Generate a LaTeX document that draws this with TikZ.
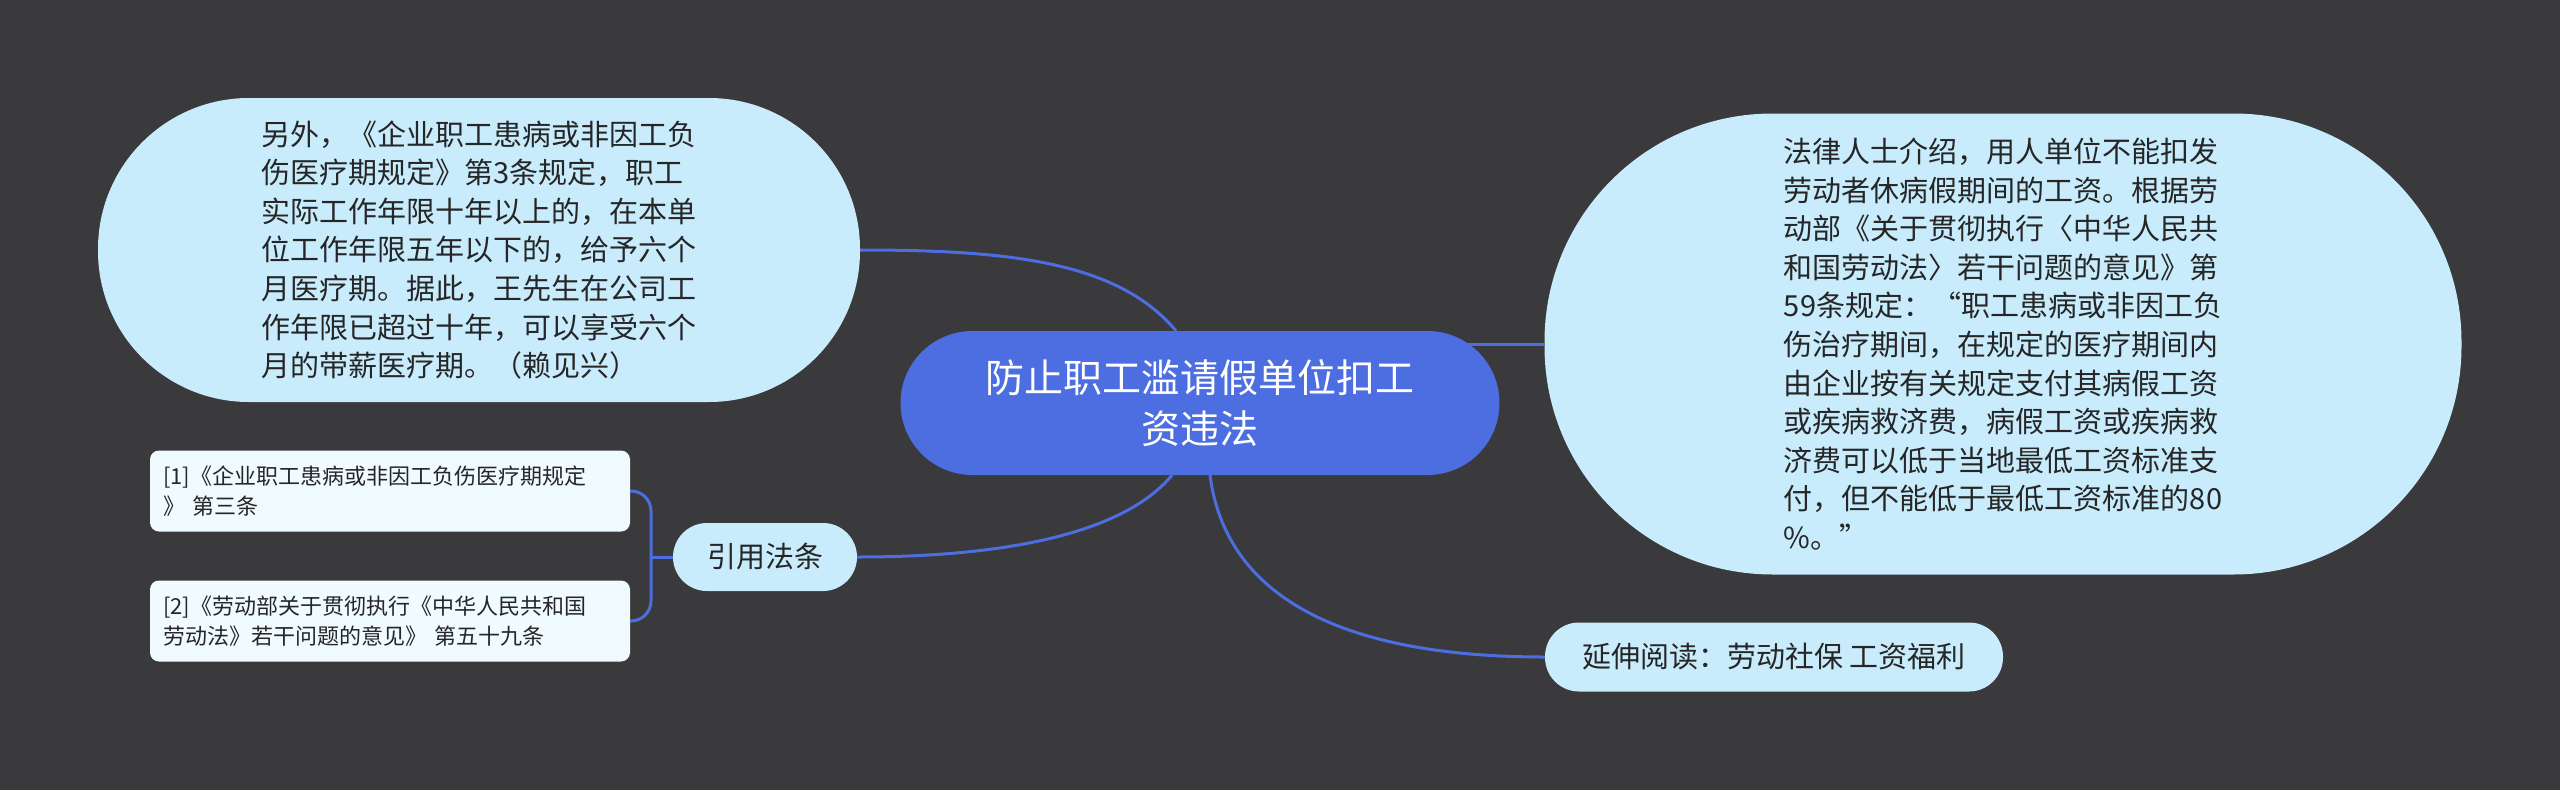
\documentclass[tikz,border=0pt]{standalone}
\usepackage{fontspec}
\usepackage{xcolor}
\usepackage{tikz}
\usetikzlibrary{backgrounds}
\newfontfamily\cjk{Noto Sans CJK SC}
\definecolor{bgdark}{HTML}{3A393B}
\definecolor{topicblue}{HTML}{4C6EE0}
\definecolor{bubblecyan}{HTML}{C8ECFC}
\definecolor{notewhite}{HTML}{F0FBFF}
\definecolor{inkdark}{HTML}{262626}

\begin{document}
\begin{tikzpicture}[x=1pt,y=-1pt,
  every node/.style={font=\cjk, text=inkdark, inner sep=0pt},
  root/.style={fill=topicblue, text=white, rounded corners=72pt,
    minimum width=599pt, minimum height=144pt, align=center,
    font=\cjk\fontsize{39}{51}\selectfont},
  bubble/.style={fill=bubblecyan, align=left,
    font=\cjk\fontsize{29}{38.6}\selectfont},
  note/.style={fill=notewhite, rounded corners=9pt, align=left,
    text width=454pt, inner sep=13pt, minimum height=81pt,
    font=\cjk\fontsize{22}{30}\selectfont},
  link/.style={draw=topicblue, line width=3pt}]
  \node[root] (topic) at (1200,403) {防止职工滥请假单位扣工\\资违法};
  \node[bubble, rounded corners=151pt, minimum width=762pt,
    minimum height=304pt] (leave) at (479,250)
    {另外，《企业职工患病或非因工负\\
     伤医疗期规定》第3条规定，职工\\
     实际工作年限十年以上的，在本单\\
     位工作年限五年以下的，给予六个\\
     月医疗期。据此，王先生在公司工\\
     作年限已超过十年，可以享受六个\\
     月的带薪医疗期。（赖见兴）};
  \node[bubble, rounded corners=228pt, minimum width=917pt,
    minimum height=461pt] (lawyer) at (2003,344)
    {法律人士介绍，用人单位不能扣发\\
     劳动者休病假期间的工资。根据劳\\
     动部《关于贯彻执行〈中华人民共\\
     和国劳动法〉若干问题的意见》第\\
     59条规定：“职工患病或非因工负\\
     伤治疗期间，在规定的医疗期间内\\
     由企业按有关规定支付其病假工资\\
     或疾病救济费，病假工资或疾病救\\
     济费可以低于当地最低工资标准支\\
     付，但不能低于最低工资标准的80\\
     \%。”};
  \node[bubble, rounded corners=34pt, minimum width=184pt,
    minimum height=68pt] (cite) at (765,557) {引用法条};
  \node[note] (citeA) at (390,491)
    {[1]《企业职工患病或非因工负伤医疗期规定\\》 第三条};
  \node[note] (citeB) at (390,621)
    {[2]《劳动部关于贯彻执行《中华人民共和国\\劳动法》若干问题的意见》 第五十九条};
  \node[bubble, rounded corners=34pt, minimum width=458pt,
    minimum height=69pt] (more) at (1774,657) {延伸阅读：劳动社保 工资福利};
  \coordinate (fork) at (651,557);
  \begin{scope}[on background layer]
    \fill[bgdark] (0,0) rectangle (2560,790);
    \draw[link] (leave.east) .. controls +(150,0) and +(-58,-69) .. ([xshift=-24pt]topic.north);
    \draw[link] (topic.center |- lawyer.west) -- (lawyer.west);
    \draw[link] ([xshift=-28pt]topic.south) .. controls +(-50,60) and +(143,0) .. (cite.east);
    \draw[link] ([xshift=10pt]topic.south) .. controls +(15,115) and +(-215,0) .. (more.west);
    \draw[link] (cite.west) -- (fork);
    \draw[link, rounded corners=20pt] (citeA.east) -| (fork) |- (citeB.east);
  \end{scope}
\end{tikzpicture}
\end{document}
